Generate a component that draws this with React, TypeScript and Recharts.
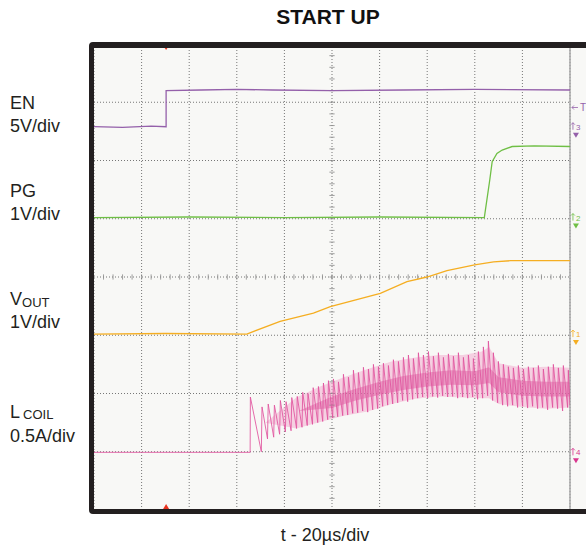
import { ComposedChart, Line, Area, XAxis, YAxis, CartesianGrid, ReferenceLine, ReferenceDot } from "recharts"

// time axis in µs (20µs/div), vertical axis in screen divisions (0 = bottom, 8 = top)
const timeTicks = [0, 20, 40, 60, 80, 100, 120, 140, 160, 180, 200]
const divTicks = [0, 1, 2, 3, 4, 5, 6, 7, 8]

const enTime = [0, 12, 24, 30.3, 30.3, 45, 60, 75, 100, 130, 160, 200]
const enLevel = [6.58, 6.57, 6.59, 6.58, 7.2, 7.21, 7.22, 7.21, 7.2, 7.21, 7.22, 7.21]

const pgTime = [0, 40, 80, 120, 164, 166.3, 167.3, 169.3, 171.5, 175.7, 185, 200]
const pgLevel = [5.02, 5.03, 5.02, 5.03, 5.02, 5.67, 5.98, 6.12, 6.18, 6.24, 6.25, 6.24]

const voutTime = [0, 30, 64.2, 78.2, 92.2, 99.3, 120.3, 131.5, 139.9, 148.3, 159.9, 167.9, 175, 200]
const voutLevel = [3.02, 3.03, 3.02, 3.24, 3.38, 3.49, 3.72, 3.92, 4.0, 4.11, 4.21, 4.26, 4.28, 4.28]

// inductor current: [µs, div], peak / valley pairs
const coilSamples: [number, number][] = [
  [0, 0.99], [20, 0.99], [40, 0.99], [65.6, 0.99],
  [65.7, 1.94], [70.3, 1.0], [70.6, 1.77], [72.9, 1.22], [73.2, 1.82], [75.5, 1.25],
  [75.8, 1.8], [78.0, 1.3], [78.3, 1.88], [80.4, 1.34], [80.7, 1.86], [82.8, 1.36],
  [83.1, 1.93], [85.1, 1.4], [85.4, 1.95], [87.4, 1.42], [87.7, 2.02], [89.6, 1.45],
  [89.9, 2.0], [91.8, 1.47], [92.1, 2.1], [94.0, 1.5], [94.3, 2.12], [96.1, 1.52],
  [96.4, 2.18], [98.2, 1.55], [98.5, 2.22], [100.3, 1.58], [100.6, 2.25], [102.4, 1.6],
  [102.7, 2.2], [104.5, 1.62], [104.8, 2.33], [106.6, 1.63], [106.9, 2.28], [108.7, 1.66],
  [109.0, 2.4], [110.8, 1.67], [111.1, 2.36], [112.9, 1.7], [113.2, 2.45], [115.0, 1.68],
  [115.3, 2.42], [117.1, 1.72], [117.4, 2.5], [119.2, 1.74], [119.5, 2.46], [121.3, 1.78],
  [121.6, 2.52], [123.4, 1.8], [123.7, 2.48], [125.5, 1.82], [125.8, 2.58], [127.6, 1.84],
  [127.9, 2.55], [129.7, 1.88], [130.0, 2.62], [131.8, 1.86], [132.1, 2.66], [133.9, 1.9],
  [134.2, 2.6], [136.0, 1.92], [136.3, 2.7], [138.1, 1.94], [138.4, 2.66], [140.2, 1.92],
  [140.5, 2.72], [142.3, 1.95], [142.6, 2.64], [144.4, 1.93], [144.7, 2.7], [146.5, 1.96],
  [146.8, 2.62], [148.6, 1.94], [148.9, 2.68], [150.7, 1.95], [151.0, 2.64], [152.8, 1.92],
  [153.1, 2.7], [154.9, 1.94], [155.2, 2.62], [157.0, 1.92], [157.3, 2.66], [159.1, 1.94],
  [159.4, 2.6], [161.2, 1.9], [161.5, 2.72], [163.3, 1.92], [163.6, 2.8], [165.4, 1.96],
  [165.7, 2.9], [167.5, 1.88], [167.8, 2.7], [169.6, 1.84], [169.9, 2.55], [171.7, 1.8],
  [172.0, 2.5], [173.8, 1.78], [174.1, 2.46], [175.9, 1.8], [176.2, 2.44], [178.0, 1.76],
  [178.3, 2.48], [180.1, 1.78], [180.4, 2.42], [182.2, 1.75], [182.5, 2.46], [184.3, 1.78],
  [184.6, 2.44], [186.4, 1.74], [186.7, 2.48], [188.5, 1.76], [188.8, 2.42], [190.6, 1.72],
  [190.9, 2.46], [192.7, 1.76], [193.0, 2.5], [194.8, 1.74], [195.1, 2.44], [196.9, 1.7],
  [197.2, 2.48], [199.0, 1.76], [199.3, 2.4], [200, 1.8],
]

// persistence of the ripple: outer envelope and the denser core
const bandTime = [72, 85, 95, 105, 115, 125, 135, 145, 155, 163, 166, 170, 180, 190, 200]
const bandLow = [1.5, 1.4, 1.51, 1.62, 1.69, 1.82, 1.91, 1.95, 1.93, 1.92, 1.92, 1.82, 1.77, 1.74, 1.76]
const bandHigh = [1.5, 1.93, 2.12, 2.28, 2.42, 2.55, 2.62, 2.66, 2.66, 2.72, 2.8, 2.52, 2.44, 2.46, 2.44]

const coreTime = [86, 100, 110, 120, 130, 140, 150, 160, 166, 170, 180, 190, 200]
const coreLow = [1.7, 1.75, 1.88, 1.98, 2.06, 2.12, 2.15, 2.14, 2.18, 2.02, 1.96, 1.95, 1.95]
const coreHigh = [1.7, 1.95, 2.08, 2.2, 2.3, 2.36, 2.4, 2.38, 2.45, 2.28, 2.22, 2.2, 2.2]

const triggerTime = 30.3
const triggerLevel = 6.91
const markerTime = 202.5

const channels = [
  { label: "3", level: 6.58, color: "#9460aa" },
  { label: "2", level: 5.02, color: "#6fbf45" },
  { label: "1", level: 3.02, color: "#f5ae22" },
  { label: "4", level: 0.99, color: "#d9368f" },
]

const zip = (t: number[], v: number[]) => t.map((x, i) => ({ t: x, v: v[i] }))
const zipRange = (t: number[], lo: number[], hi: number[]) => t.map((x, i) => ({ t: x, r: [lo[i], hi[i]] }))
const enData = zip(enTime, enLevel)
const pgData = zip(pgTime, pgLevel)
const voutData = zip(voutTime, voutLevel)
const coilData = coilSamples.map(([t, v]) => ({ t, v }))
const bandData = zipRange(bandTime, bandLow, bandHigh)
const coreData = zipRange(coreTime, coreLow, coreHigh)

// minor graticule ticks on the centre cross
const minorX = Array.from({ length: 49 }, (_, i) => (i + 1) * 4)
const minorY = Array.from({ length: 39 }, (_, i) => (i + 1) * 0.2)

const font = "'Liberation Sans', Arial, sans-serif"

const ChannelMark = (props: any) => {
  const { cx, cy, color, label } = props
  return (
    <g>
      <path d={`M${cx - 3},${cy + 3} L${cx - 3},${cy - 4} M${cx - 5},${cy - 2} L${cx - 3},${cy - 4} L${cx - 1},${cy - 2}`} stroke={color} fill="none" strokeWidth={0.8} />
      <text x={cx} y={cy + 3} fontSize={8} fill={color} fontFamily={font}>{label}</text>
      <path d={`M${cx - 3},${cy + 6} L${cx + 3},${cy + 6} L${cx},${cy + 11} Z`} fill={color} />
    </g>
  )
}

const label = (top: number, content: any) => (
  <div style={{ position: "absolute", left: 10, top, fontSize: 18, lineHeight: "18px", color: "#231f20", whiteSpace: "nowrap" }}>
    {content}
  </div>
)

export default function App() {
  return (
    <div style={{ position: "fixed", left: 0, top: 0, width: 586, height: 548, overflow: "hidden", background: "#fff", fontFamily: font }}>
      <div style={{ position: "absolute", left: 89, top: 42, width: 600, height: 472, background: "#f8f8f6", borderRadius: 4 }} />
      <div style={{ position: "absolute", left: 0, top: 0 }}>
        <ComposedChart width={586} height={548} margin={{ top: 44, right: 16, bottom: 38, left: 94 }}>
          <XAxis dataKey="t" type="number" domain={[0, 200]} ticks={timeTicks} allowDataOverflow hide />
          <YAxis type="number" domain={[0, 8]} ticks={divTicks} allowDataOverflow hide />
          <CartesianGrid stroke="#777" strokeDasharray="1 2" />
          <ReferenceLine x={200} stroke="#a9a9a9" strokeWidth={1.5} />
          {minorX.map((t) => (
            <ReferenceLine key={"mx" + t} segment={[{ x: t, y: 3.955 }, { x: t, y: 4.045 }]} stroke="#888" strokeWidth={0.8} />
          ))}
          {minorY.map((v) => (
            <ReferenceLine key={"my" + v} segment={[{ x: 98.9, y: v }, { x: 101.1, y: v }]} stroke="#888" strokeWidth={0.8} />
          ))}
          <Area data={bandData} dataKey="r" type="linear" stroke="none" fill="#f2aed0" fillOpacity={0.55} isAnimationActive={false} />
          <Area data={coreData} dataKey="r" type="linear" stroke="none" fill="#d42f86" fillOpacity={0.35} isAnimationActive={false} />
          <Line data={coilData} dataKey="v" type="linear" stroke="#e0529d" strokeOpacity={0.85} strokeWidth={1} dot={false} isAnimationActive={false} />
          <Line data={voutData} dataKey="v" type="linear" stroke="#f5ae22" strokeWidth={1.3} dot={false} isAnimationActive={false} />
          <Line data={pgData} dataKey="v" type="linear" stroke="#6fbf45" strokeWidth={1.3} dot={false} isAnimationActive={false} />
          <Line data={enData} dataKey="v" type="linear" stroke="#9460aa" strokeWidth={1.3} dot={false} isAnimationActive={false} />
          <ReferenceDot x={triggerTime} y={8} ifOverflow="visible" shape={(p: any) => (
            <path d={`M${p.cx - 2},${p.cy + 3} L${p.cx + 2},${p.cy + 3} L${p.cx},${p.cy + 6} Z`} fill="#e8321e" />
          )} />
          <ReferenceDot x={triggerTime} y={0} ifOverflow="visible" shape={(p: any) => (
            <path d={`M${p.cx - 3},${p.cy - 1} L${p.cx + 3},${p.cy - 1} L${p.cx},${p.cy - 6} Z`} fill="#e8321e" />
          )} />
          <ReferenceDot x={markerTime} y={triggerLevel} ifOverflow="visible" shape={(p: any) => (
            <g>
              <path d={`M${p.cx - 4},${p.cy} L${p.cx + 2},${p.cy} M${p.cx - 2},${p.cy - 2} L${p.cx - 4},${p.cy} L${p.cx - 2},${p.cy + 2}`} stroke="#9460aa" fill="none" strokeWidth={0.8} />
              <text x={p.cx + 4} y={p.cy + 4} fontSize={10} fill="#9460aa" fontFamily={font}>T</text>
            </g>
          )} />
          {channels.map((c) => (
            <ReferenceDot key={c.label} x={markerTime} y={c.level} ifOverflow="visible" shape={(p: any) => <ChannelMark cx={p.cx} cy={p.cy} color={c.color} label={c.label} />} />
          ))}
        </ComposedChart>
      </div>
      <div style={{ position: "absolute", left: 89, top: 42, width: 600, height: 472, boxSizing: "border-box", borderStyle: "solid", borderColor: "#231f20", borderWidth: "6px 5px 5px 5px", borderRadius: 4, pointerEvents: "none" }} />
      <div style={{ position: "absolute", left: 0, width: 656, top: 5, textAlign: "center", fontSize: 21, fontWeight: "bold", lineHeight: "24px", color: "#111" }}>START UP</div>
      <div style={{ position: "absolute", left: 0, width: 650, top: 525, textAlign: "center", fontSize: 18, lineHeight: "20px", color: "#231f20" }}>t - 20µs/div</div>
      {label(94, "EN")}
      {label(117, "5V/div")}
      {label(182, "PG")}
      {label(205, "1V/div")}
      {label(290, <>V<span style={{ fontSize: 13, position: "relative", top: 2 }}>OUT</span></>)}
      {label(313, "1V/div")}
      {label(403, <>L<span style={{ fontSize: 13, marginLeft: 3, position: "relative", top: 1 }}>COIL</span></>)}
      {label(427, "0.5A/div")}
    </div>
  )
}
